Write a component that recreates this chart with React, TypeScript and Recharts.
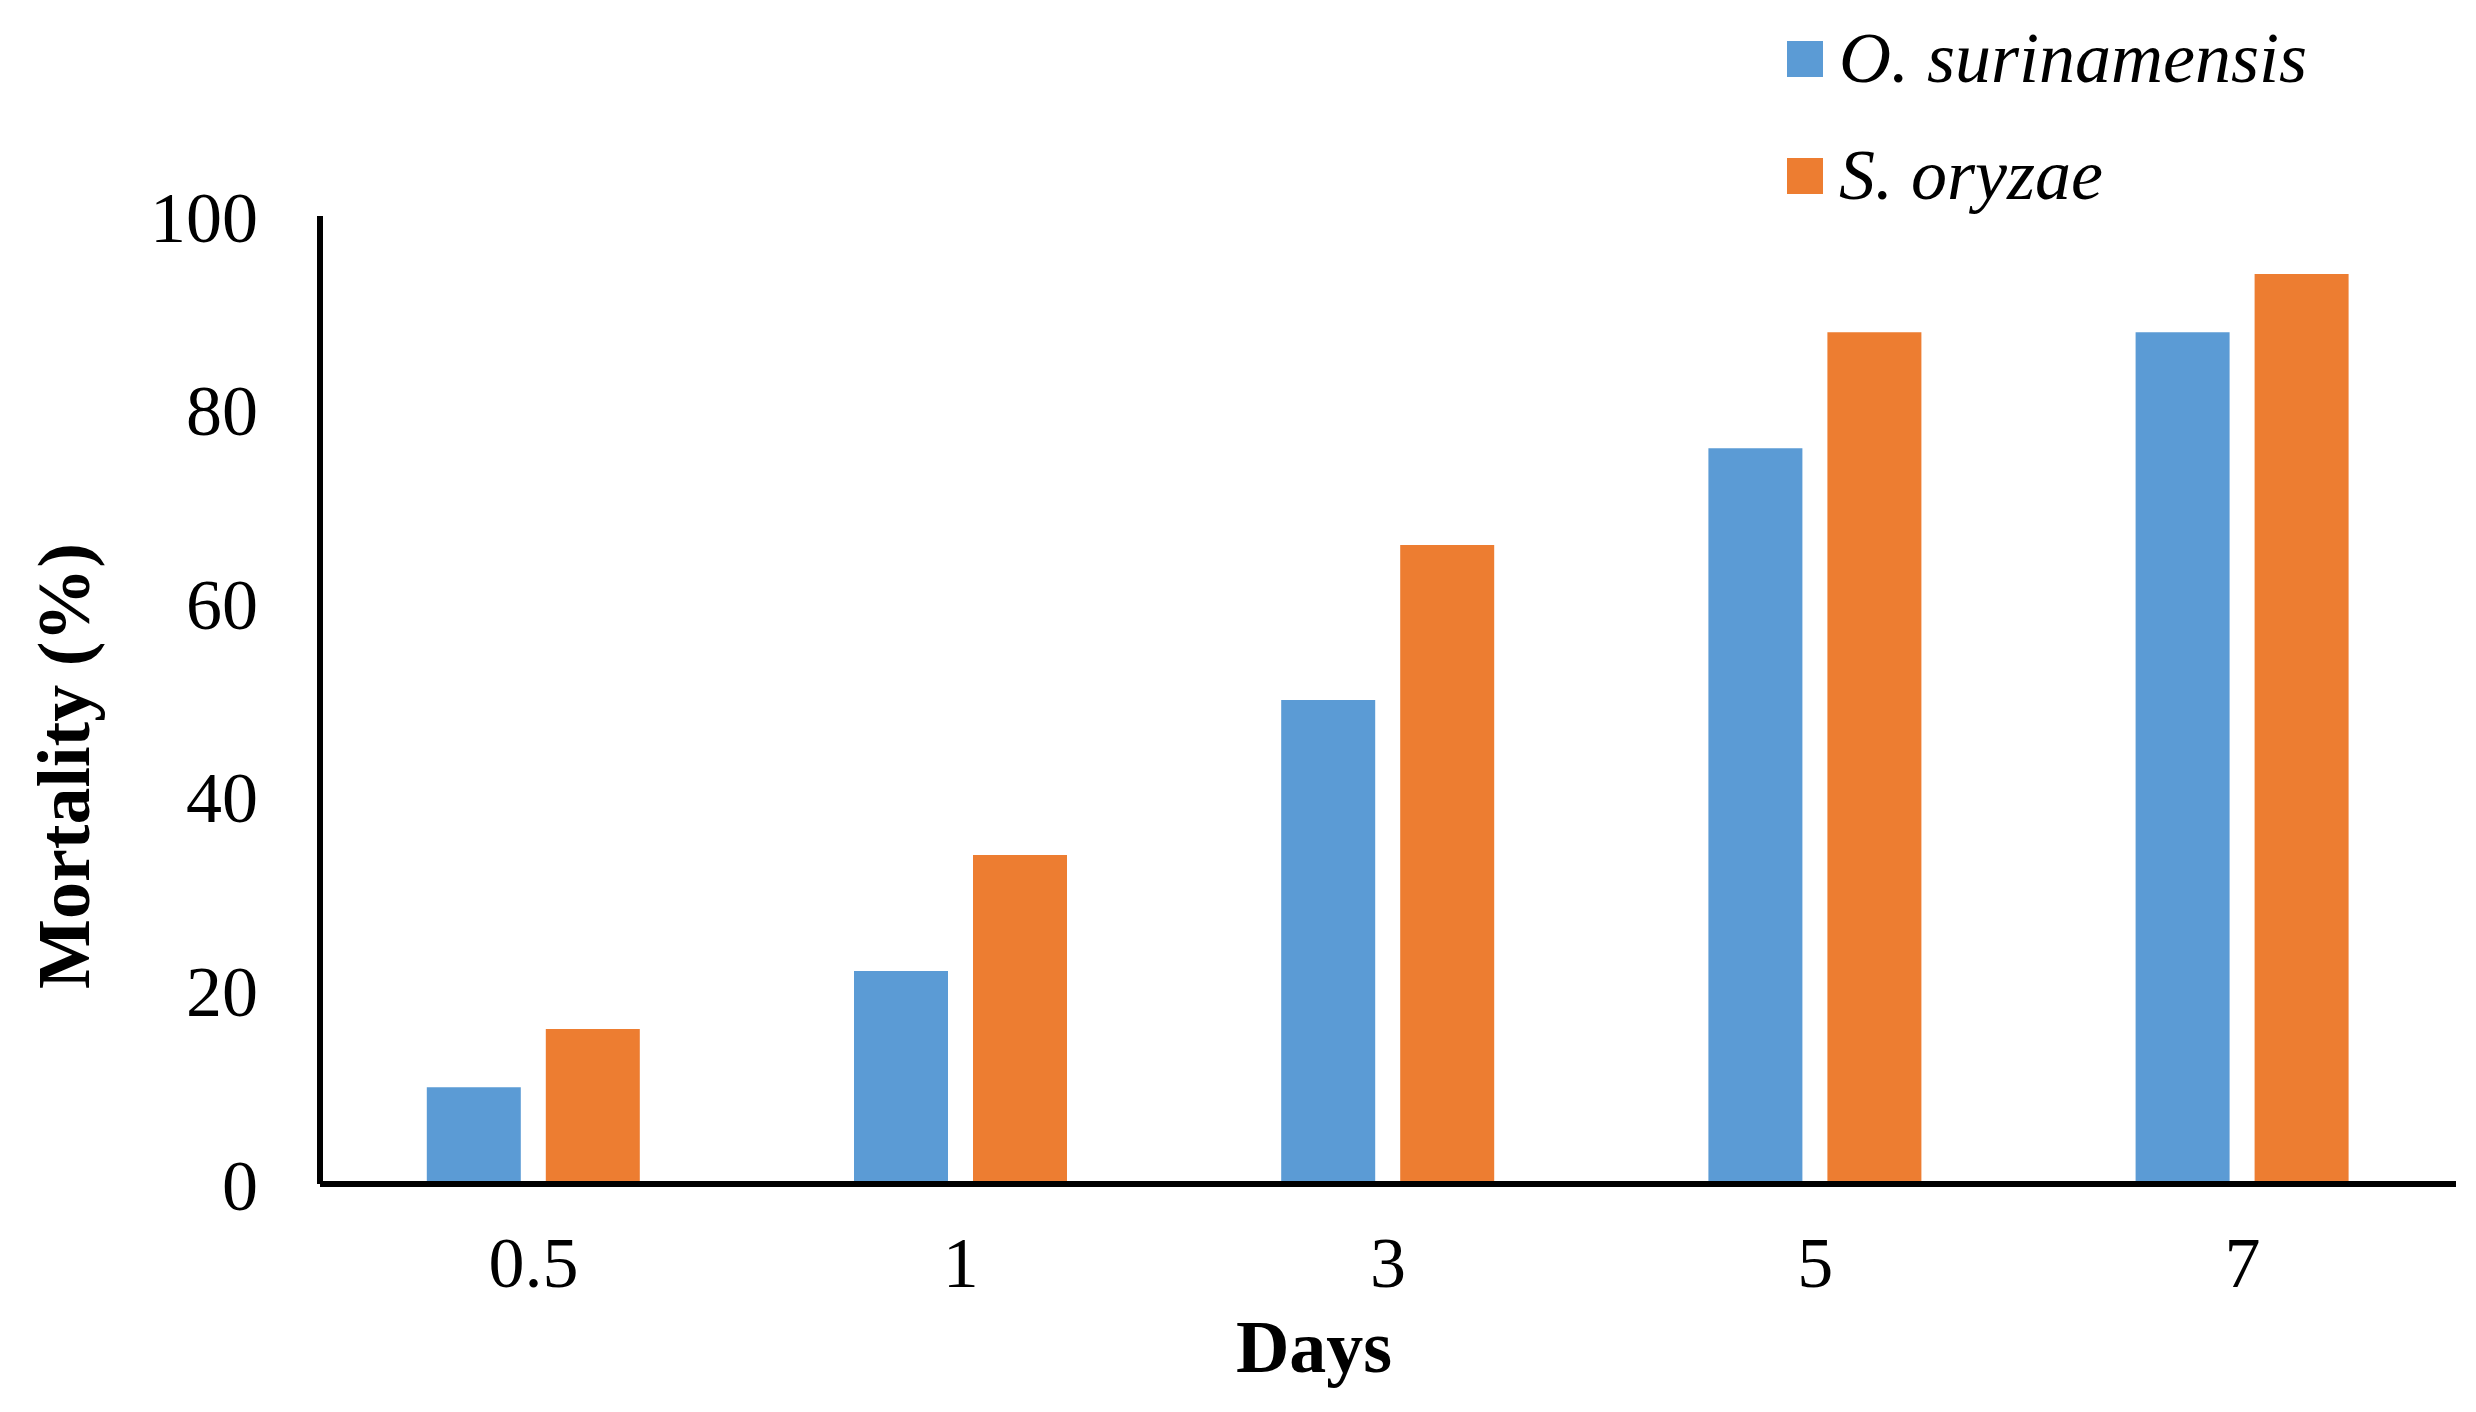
import React from 'react';
import { BarChart, Bar, XAxis, YAxis, Legend } from 'recharts';

const days = ['0.5', '1', '3', '5', '7'];
const oSurinamensis = [10, 22, 50, 76, 88];
const sOryzae = [16, 34, 66, 88, 94];
const yTicks = [0, 20, 40, 60, 80, 100];

const data = days.map((day, i) => ({
  day,
  oSur: oSurinamensis[i],
  sOry: sOryzae[i],
}));

const serif = '"Liberation Serif", "Times New Roman", serif';

const LegendBox = (props: any) => (
  <div style={{ fontFamily: serif, fontStyle: 'italic', fontSize: 72, color: '#000' }}>
    {(props.payload || []).map((entry: any) => (
      <div key={entry.value} style={{ display: 'flex', alignItems: 'center', height: 117 }}>
        <span style={{ display: 'inline-block', width: 36, height: 36, background: entry.color, marginRight: 16 }} />
        <span>{entry.value}</span>
      </div>
    ))}
  </div>
);

const YLabel = () => (
  <text
    transform="translate(64,766) rotate(-90)"
    textAnchor="middle"
    dominantBaseline="central"
    fontFamily={serif}
    fontWeight="bold"
    fontSize={74}
    fill="#000"
  >
    Mortality (%)
  </text>
);

const XLabel = () => (
  <text x={1314} y={1372} textAnchor="middle" fontFamily={serif} fontWeight="bold" fontSize={74} fill="#000">
    Days
  </text>
);

const App = () => {
  return (
    <div style={{ position: 'absolute', left: 0, top: 0, background: '#fff' }}>
      <BarChart
        width={2476}
        height={1412}
        data={data}
        margin={{ top: 216, right: 20, bottom: 108, left: 0 }}
        barCategoryGap="25%"
        barGap={25}
      >
        <XAxis
          dataKey="day"
          height={120}
          axisLine={{ stroke: '#000', strokeWidth: 6 }}
          tickLine={false}
          tickSize={0}
          tickMargin={52}
          tick={{ fill: '#000', fontFamily: serif, fontSize: 72 }}
          label={<XLabel />}
        />
        <YAxis
          width={320}
          domain={[0, 100]}
          ticks={yTicks}
          axisLine={{ stroke: '#000', strokeWidth: 6 }}
          tickLine={false}
          tickSize={0}
          tickMargin={62}
          tick={{ fill: '#000', fontFamily: serif, fontSize: 72 }}
          label={<YLabel />}
        />
        <Legend
          layout="vertical"
          align="center"
          verticalAlign="middle"
          content={<LegendBox />}
          wrapperStyle={{ left: 1787, top: 0 }}
        />
        <Bar dataKey="oSur" name="O. surinamensis" fill="#5B9BD5" isAnimationActive={false} />
        <Bar dataKey="sOry" name="S. oryzae" fill="#ED7D31" isAnimationActive={false} />
      </BarChart>
    </div>
  );
};

export default App;
